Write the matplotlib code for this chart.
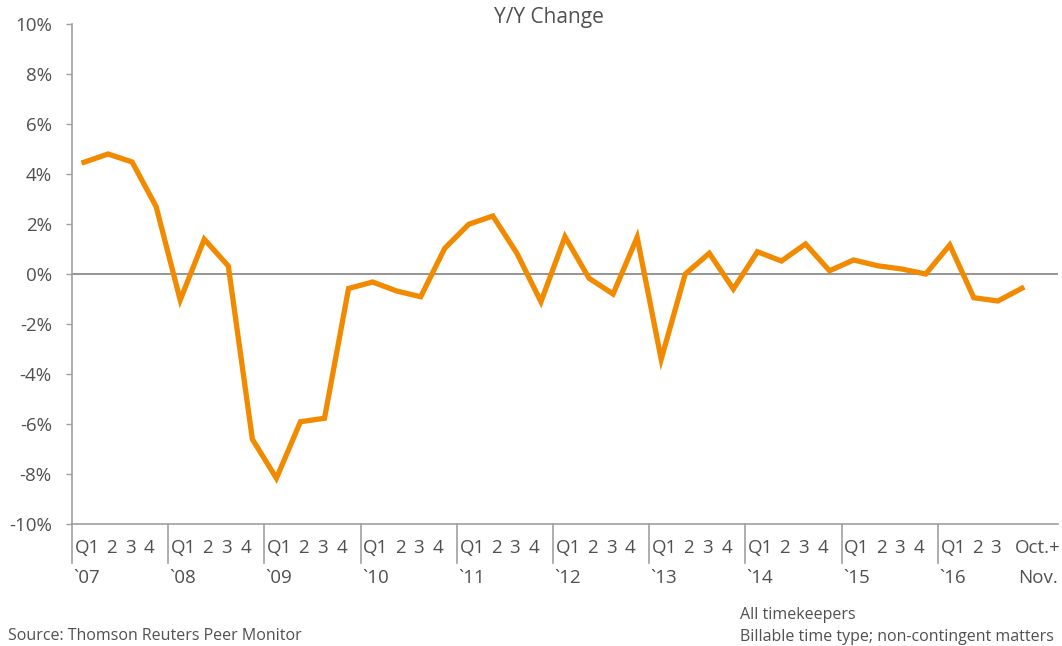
import matplotlib
matplotlib.use("Agg")
import matplotlib.pyplot as plt

# Y/Y change by quarter, 2007 Q1 .. 2016 Q3, then Oct.+Nov. 2016
values = [4.47, 4.80, 4.48, 2.69, -1.04, 1.39, 0.32, -6.61,
          -8.17, -5.91, -5.77, -0.58, -0.32, -0.68, -0.91, 1.03,
          1.99, 2.32, 0.83, -1.11, 1.49, -0.17, -0.80, 1.47,
          -3.41, 0.00, 0.83, -0.60, 0.89, 0.52, 1.20, 0.13,
          0.56, 0.33, 0.20, 0.00, 1.16, -0.95, -1.08, -0.57]
years = ["`07", "`08", "`09", "`10", "`11", "`12", "`13", "`14", "`15", "`16"]
quarter_labels = ["Q1", "2", "3", "4"]
y_ticks = [-10, -8, -6, -4, -2, 0, 2, 4, 6, 8, 10]

plt.rcParams['font.family'] = ['Open Sans', 'DejaVu Sans']
text_col = '#505050'
axis_col = '#a0a0a0'
orange = '#f28a00'

fig = plt.figure(figsize=(10.62, 6.46), dpi=100)
ax = fig.add_axes([72 / 1062, 122 / 646, 986 / 1062, 500 / 646])

x = list(range(len(values)))
ax.plot(x, values, color=orange, lw=3.8, solid_joinstyle='miter', zorder=3)
ax.axhline(0, color='#8c8c8c', lw=1.3, zorder=2)

ax.set_xlim(-0.5, 40.5)
ax.set_ylim(-10, 10)
ax.set_yticks(y_ticks)
ax.set_yticklabels([f"{t}%" for t in y_ticks])
ax.tick_params(axis='y', length=4, width=1, color=axis_col, pad=10.5,
               labelsize=13.5, labelcolor=text_col)
ax.set_xticks([])

for side in ['top', 'right']:
    ax.spines[side].set_visible(False)
for side in ['left', 'bottom']:
    ax.spines[side].set_color(axis_col)
    ax.spines[side].set_linewidth(1.2)

tr = ax.get_xaxis_transform()
# label offsets from each year separator (in quarter units)
q_off = [0.64, 1.64, 2.42, 3.22]

n_quarters = len(values) - 1
for k, yr in enumerate(years):
    sep = 4 * k - 0.5
    ax.plot([sep, sep], [0, -0.078], color=axis_col, lw=1.2, transform=tr,
            clip_on=False)
    ax.text(sep + 0.05, -0.108, yr, transform=tr, ha='left', va='center',
            fontsize=13.5, color=text_col)
    for q in range(4):
        if 4 * k + q >= n_quarters:
            break
        ax.text(sep + q_off[q], -0.048, quarter_labels[q], transform=tr,
                ha='center', va='center', fontsize=13.5, color=text_col)

ax.text(39.65, -0.048, "Oct.+", transform=tr, ha='center', va='center',
        fontsize=13.5, color=text_col)
ax.text(39.65, -0.108, "Nov.", transform=tr, ha='center', va='center',
        fontsize=13.5, color=text_col)

fig.text(549 / 1062, 1 - 18 / 646, "Y/Y Change", ha='center', va='center',
         fontsize=15, color=text_col)
fig.text(8 / 1062, 1 - 636 / 646, "Source: Thomson Reuters Peer Monitor",
         ha='left', va='center', fontsize=11.5, color=text_col)
fig.text(740 / 1062, 1 - 615 / 646, "All timekeepers",
         ha='left', va='center', fontsize=11.5, color=text_col)
fig.text(740 / 1062, 1 - 637 / 646, "Billable time type; non-contingent matters",
         ha='left', va='center', fontsize=11.5, color=text_col)

fig.savefig("out.png", dpi=100)
